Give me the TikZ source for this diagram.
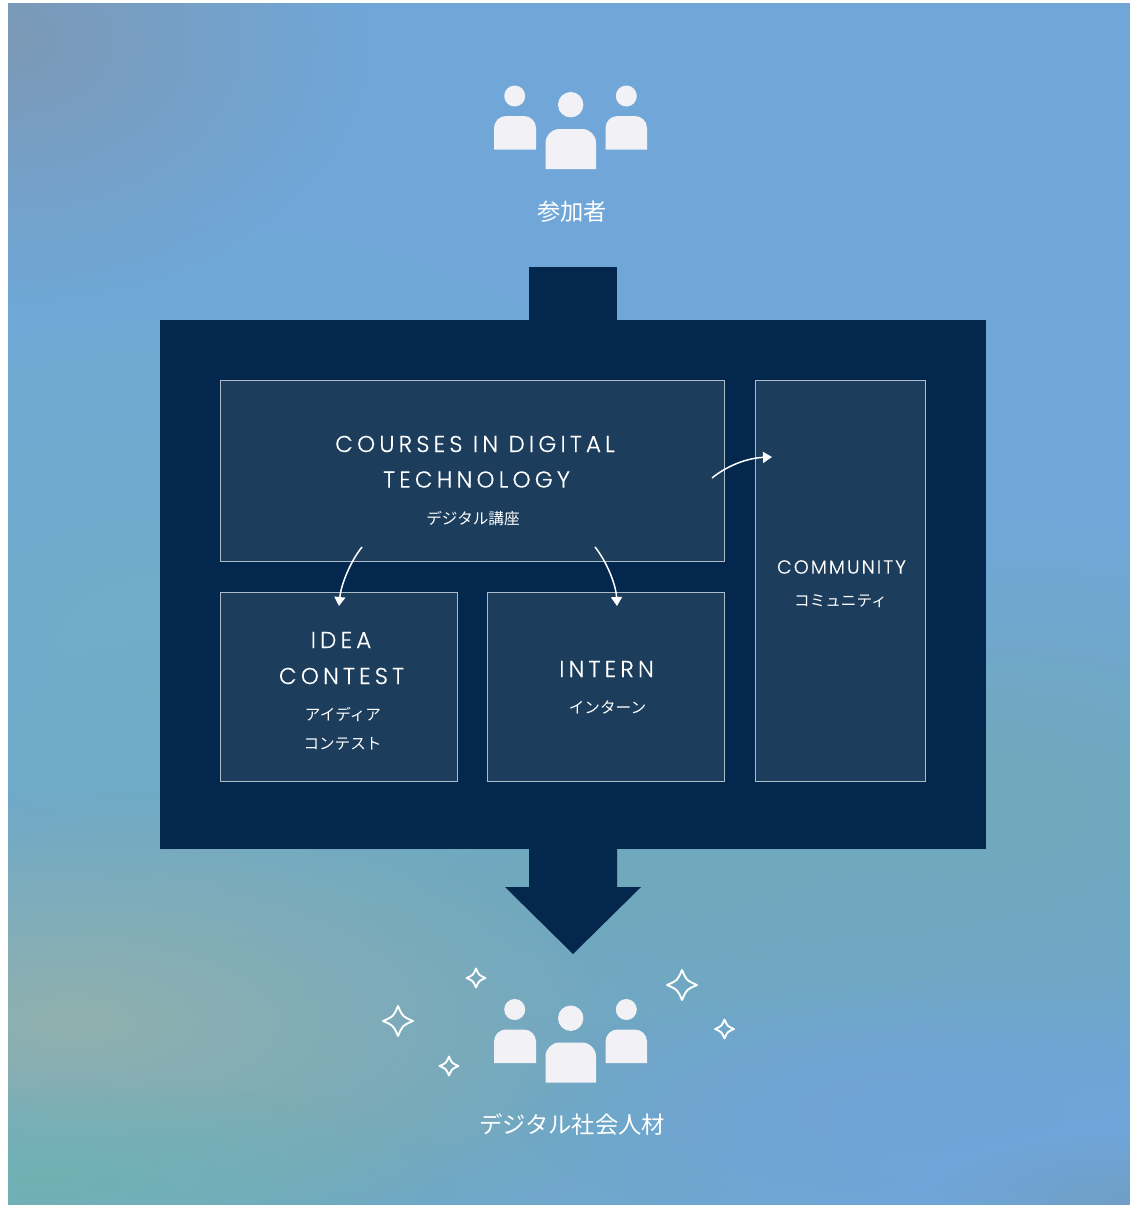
\documentclass[tikz,border=0pt]{standalone}
\usepackage{fontspec}
\usetikzlibrary{arrows.meta,fadings,calc}
\setmainfont{Poppins}[UprightFont=* Light,LetterSpace=18,FakeBold=0.3]
\newfontfamily\commf{Poppins}[UprightFont=* Light,LetterSpace=11,FakeBold=0.3]
\newfontfamily\cjkf{Noto Sans CJK JP}
\definecolor{navy}{HTML}{03274D}
\definecolor{boxfill}{HTML}{1C3D5C}
\definecolor{boxline}{HTML}{AEBBC8}
\definecolor{person}{HTML}{F1F1F6}
\definecolor{basebg}{HTML}{70A7D8}
\definecolor{greytl}{HTML}{7C99B6}
\definecolor{tealmid}{HTML}{6FAEC8}
\definecolor{teallow}{HTML}{71A9BC}
\definecolor{sage}{HTML}{90B1AE}
\definecolor{tealbot}{HTML}{6FB2B3}
\definecolor{blueb}{HTML}{6FA4D8}
\definecolor{greybr}{HTML}{6F9FC6}
\tikzfading[name=blob,inner color=transparent!0,middle color=transparent!40,outer color=transparent!100]
\tikzset{
 bgblob/.style={fill=#1,path fading=blob,draw=none},
 panel/.style={fill=navy,draw=none},
 cardbox/.style={draw=boxline,fill=boxfill,line width=.8pt,anchor=north west,inner sep=0pt,outer sep=0pt},
 titletxt/.style={text=white,inner sep=0pt,font=\fontsize{23}{26}\selectfont},
 commtxt/.style={text=white,inner sep=0pt,font=\commf\fontsize{19}{22}\selectfont},
 subtxt/.style={text=white,inner sep=0pt,font=\cjkf\fontsize{15.6}{18}\selectfont},
 captxt/.style={text=white,inner sep=0pt,font=\cjkf\fontsize{23.3}{26}\selectfont},
 flow/.style={draw=white,line width=1.5pt,-{Triangle[width=11pt,length=9pt]}},
 spark/.style={draw=white,line width=1.9pt,fill=none,line join=round},
 people/.pic={
  \fill[person] (514.7,96) circle (10.5);
  \fill[person] (626.3,96) circle (10.5);
  \fill[person] (570.7,104.7) circle (12.7);
  \fill[person] (494,149.5) {[rounded corners=12pt] -- (494,116) -- (536,116)} -- (536,149.5) -- cycle;
  \fill[person] (605.5,149.5) {[rounded corners=12pt] -- (605.5,116) -- (647,116)} -- (647,149.5) -- cycle;
  \fill[person] (545.5,169) {[rounded corners=14pt] -- (545.5,129) -- (596,129)} -- (596,169) -- cycle;
 }
}
\newcommand{\sparkle}[3]{%
 \draw[spark] (#1,#2-#3) .. controls (#1+.3*#3,#2-.3*#3) .. (#1+#3,#2)
   .. controls (#1+.3*#3,#2+.3*#3) .. (#1,#2+#3)
   .. controls (#1-.3*#3,#2+.3*#3) .. (#1-#3,#2)
   .. controls (#1-.3*#3,#2-.3*#3) .. cycle;}
\begin{document}
\begin{tikzpicture}[x=1pt,y=-1pt]
\useasboundingbox (0,0) rectangle (1130,1205);
\fill[white] (0,0) rectangle (1130,1205);
\begin{scope}
 \clip (8,3) rectangle (1130,1205);
 \fill[basebg] (8,3) rectangle (1130,1205);
 \fill[bgblob=tealmid] (150,640) ellipse (620 and 420);
 \fill[bgblob=teallow] (600,880) ellipse (900 and 280);
 \fill[bgblob=teallow] (1000,800) ellipse (500 and 280);
 \fill[bgblob=teallow] (300,1110) ellipse (650 and 220);
 \fill[bgblob=greytl] (8,40) ellipse (360 and 260);
 \fill[bgblob=sage] (70,1020) ellipse (560 and 230);
 \fill[bgblob=tealbot] (40,1180) ellipse (420 and 110);
 \fill[bgblob=blueb] (930,1110) ellipse (420 and 130);
 \fill[bgblob=greybr] (1130,1205) ellipse (200 and 70);
\end{scope}
% big arrows and panel
\fill[panel] (529,267) rectangle (617,321);
\node[panel,anchor=north west,minimum width=826pt,minimum height=529pt,inner sep=0pt,outer sep=0pt] (main) at (160,320) {};
\fill[panel] (529,848) -- (617,848) -- (617,887) -- (641,887) -- (573,954) -- (505,887) -- (529,887) -- cycle;
% cards
\node[cardbox,minimum width=504.4pt,minimum height=180.6pt] (courses) at (220,380.3) {};
\node[cardbox,minimum width=237.4pt,minimum height=188.6pt] (idea) at (220,592.3) {};
\node[cardbox,minimum width=237.4pt,minimum height=188.6pt] (intern) at (487,592.3) {};
\node[cardbox,minimum width=170.4pt,minimum height=400.6pt] (community) at (755,380.3) {};
% card text
\node[titletxt] (t1) at (475,444) {COURSES IN DIGITAL};
\node[titletxt] (t2) at (476.5,479.5) {TECHNOLOGY};
\node[subtxt] (t3) at (473,518) {デジタル講座};
\node[titletxt] (t4) at (341,640) {IDEA};
\node[titletxt] (t5) at (341.5,676) {CONTEST};
\node[subtxt] (t6) at (343,714) {アイディア};
\node[subtxt] (t7) at (342.5,744) {コンテスト};
\node[titletxt] (t8) at (606.5,669) {INTERN};
\node[subtxt] (t9) at (607.5,707) {インターン};
\node[commtxt] (t10) at (841.5,567) {COMMUNITY};
\node[subtxt] (t11) at (840.5,601) {コミュニティ};
% connectors
\coordinate (a1s) at (362,547);
\coordinate (a1e) at (339,606);
\coordinate (a2s) at (595,547);
\coordinate (a2e) at (617,606);
\coordinate (a3s) at (712,478);
\coordinate (a3e) at (772,457);
\draw[flow] (a1s) .. controls (350,562) and (341,585) .. (a1e);
\draw[flow] (a2s) .. controls (607,562) and (616,585) .. (a2e);
\draw[flow] (a3s) .. controls (728,465) and (748,458) .. (a3e);
% people
\pic {people};
\pic at (0,913.5) {people};
\node[captxt] (top) at (572,212) {参加者};
\node[captxt] (bottom) at (572,1125) {デジタル社会人材};
% sparkles
\sparkle{398}{1021}{15}
\sparkle{476}{978}{9.5}
\sparkle{449}{1066}{9.5}
\sparkle{682}{985}{15}
\sparkle{724.5}{1029}{9.5}
\end{tikzpicture}
\end{document}
